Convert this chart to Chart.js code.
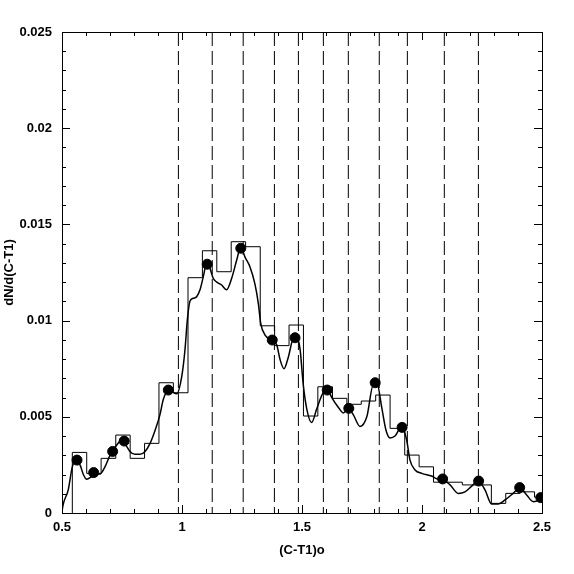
<!DOCTYPE html>
<html lang="en">
<head>
    <meta charset="UTF-8">
    <title>dN/d(C-T1)</title>
    <script src="https://cdn.jsdelivr.net/npm/chart.js"></script>
    <style>
        html, body { margin: 0; padding: 0; background: #fff; }
        #wrap { width: 574px; height: 574px; }
    </style>
</head>
<body>
    <div id="wrap"><canvas id="chart" width="574" height="574"></canvas></div>
    <script>
        // histogram: bin edges and heights
        const histEdges = [0.543, 0.603, 0.663, 0.724, 0.784, 0.844, 0.904, 0.964, 1.025, 1.085,
            1.145, 1.205, 1.265, 1.326, 1.386, 1.446, 1.506, 1.566, 1.627, 1.687, 1.747, 1.807,
            1.867, 1.928, 1.988, 2.048, 2.108, 2.168, 2.229, 2.289, 2.349, 2.409, 2.469, 2.530];
        const histValues = [0.00315, 0.00206, 0.00284, 0.00405, 0.00284, 0.00362, 0.00677,
            0.00625, 0.01223, 0.01363, 0.01254, 0.0141, 0.01384, 0.00973, 0.0087, 0.00977,
            0.00504, 0.00656, 0.00596, 0.00565, 0.00582, 0.00613, 0.0044, 0.00301, 0.0024,
            0.0016, 0.0016, 0.00146, 0.00146, 0.0005, 0.00102, 0.0011, 0.00082];

        // smoothed distribution
        const curveX = [0.5, 0.501, 0.526, 0.543, 0.557, 0.575, 0.589, 0.603, 0.624, 0.645, 0.658,
            0.679, 0.70, 0.728, 0.749, 0.770, 0.783, 0.804, 0.825, 0.846, 0.867, 0.888, 0.908,
            0.922, 0.943, 0.958, 0.978, 0.999, 1.0125, 1.022, 1.033, 1.047, 1.061, 1.075, 1.089,
            1.103, 1.117, 1.130, 1.145, 1.165, 1.186, 1.207, 1.228, 1.245, 1.2625, 1.283, 1.304,
            1.318, 1.328, 1.346, 1.374, 1.395, 1.408, 1.425, 1.443, 1.464, 1.478, 1.492, 1.505,
            1.520, 1.540, 1.561, 1.582, 1.603, 1.624, 1.651, 1.672, 1.693, 1.714, 1.742, 1.770,
            1.797, 1.814, 1.832, 1.85, 1.867, 1.8875, 1.915, 1.936, 1.95, 1.971, 1.999, 2.040,
            2.068, 2.089, 2.117, 2.151, 2.179, 2.207, 2.235, 2.2625, 2.29, 2.318, 2.346, 2.380,
            2.408, 2.436, 2.464, 2.492, 2.5];
        const curveY = [0.00002, 0.00016, 0.0012, 0.0024, 0.0027, 0.0025, 0.0020, 0.00175, 0.00189,
            0.00203, 0.00203, 0.0024, 0.0030, 0.00353, 0.0038, 0.00345, 0.0032, 0.00305, 0.00305,
            0.0032, 0.00362, 0.0043, 0.0051, 0.0059, 0.00637, 0.0063, 0.0062, 0.0071, 0.0085,
            0.0100, 0.0110, 0.01116, 0.01124, 0.0116, 0.0123, 0.0130, 0.0127, 0.0122, 0.0120,
            0.01185, 0.0116, 0.0122, 0.01315, 0.01384, 0.0133, 0.0128, 0.0119, 0.0109, 0.00986,
            0.00925, 0.0090, 0.00873, 0.0080, 0.0075, 0.0081, 0.0091, 0.00916, 0.0085, 0.0067,
            0.0054, 0.0047, 0.0054, 0.0061, 0.0065, 0.0060, 0.0055, 0.0052, 0.00544, 0.0051,
            0.0045, 0.0050, 0.00665, 0.00665, 0.0055, 0.0043, 0.0039, 0.0040, 0.00449, 0.0038,
            0.00275, 0.00224, 0.00206, 0.00192, 0.00175, 0.00172, 0.00146, 0.00102, 0.0011,
            0.0014, 0.00166, 0.0012, 0.00047, 0.00047, 0.00068, 0.00102, 0.00131, 0.00094,
            0.00059, 0.00068, 0.00073];

        // binned points
        const dotX = [0.5625, 0.632, 0.711, 0.759, 0.943, 1.105, 1.245, 1.376, 1.471, 1.605,
            1.695, 1.805, 1.917, 2.086, 2.236, 2.407, 2.495];
        const dotY = [0.00275, 0.0021, 0.0032, 0.00374, 0.00639, 0.01293, 0.01376, 0.00899,
            0.00911, 0.00639, 0.00544, 0.00677, 0.00445, 0.00177, 0.00166, 0.00132, 0.0008];

        // bin boundaries (dashed)
        const dashX = [0.985, 1.126, 1.255, 1.385, 1.485, 1.589, 1.693, 1.822, 1.939, 2.093, 2.235];

        const xMin = 0.5, xMax = 2.5, yMin = 0, yMax = 0.025;
        const labelFont = { family: 'Liberation Sans, Arial, sans-serif', size: 13, weight: 'bold' };

        const histData = [{ x: histEdges[0], y: 0 }].concat(
            histValues.map((v, i) => ({ x: histEdges[i], y: v })),
            [{ x: histEdges[histEdges.length - 1], y: histValues[histValues.length - 1] }]
        );

        const datasets = [];
        dashX.forEach(x => {
            datasets.push({
                data: [{ x: x, y: yMax }, { x: x, y: yMin }],
                showLine: true,
                borderColor: '#000',
                borderWidth: 1,
                borderDash: [14, 5],
                pointRadius: 0
            });
        });
        datasets.push({
            data: histData,
            showLine: true,
            stepped: 'before',
            borderColor: '#000',
            borderWidth: 1,
            pointRadius: 0
        });
        datasets.push({
            data: curveX.map((x, i) => ({ x: x, y: curveY[i] })),
            showLine: true,
            cubicInterpolationMode: 'monotone',
            borderColor: '#000',
            borderWidth: 1.5,
            pointRadius: 0
        });
        datasets.push({
            data: dotX.map((x, i) => ({ x: x, y: dotY[i] })),
            showLine: false,
            pointRadius: 5,
            pointBackgroundColor: '#000',
            pointBorderColor: '#000'
        });

        // inward ticks on all four sides plus the frame
        const frameTicks = {
            id: 'frameTicks',
            afterDatasetsDraw(chart) {
                const { ctx, chartArea: a, scales } = chart;
                const xs = scales.x, ys = scales.y;
                ctx.save();
                ctx.strokeStyle = '#000';
                ctx.lineWidth = 1;
                ctx.beginPath();
                for (let i = 0; i <= 20; i++) {
                    const v = xMin + i * 0.1;
                    const px = Math.round(xs.getPixelForValue(v)) + 0.5;
                    const len = i % 5 === 0 ? 8 : 4;
                    ctx.moveTo(px, a.bottom); ctx.lineTo(px, a.bottom - len);
                    ctx.moveTo(px, a.top); ctx.lineTo(px, a.top + len);
                }
                for (let i = 0; i <= 25; i++) {
                    const v = yMin + i * 0.001;
                    const py = Math.round(ys.getPixelForValue(v)) + 0.5;
                    const len = i % 5 === 0 ? 8 : 4;
                    ctx.moveTo(a.left, py); ctx.lineTo(a.left + len, py);
                    ctx.moveTo(a.right, py); ctx.lineTo(a.right - len, py);
                }
                ctx.stroke();
                ctx.strokeRect(Math.round(a.left) + 0.5, Math.round(a.top) + 0.5,
                    Math.round(a.right - a.left), Math.round(a.bottom - a.top));
                ctx.restore();
            }
        };

        new Chart(document.getElementById('chart'), {
            type: 'scatter',
            data: { datasets: datasets },
            plugins: [frameTicks],
            options: {
                responsive: false,
                animation: false,
                layout: { padding: { top: 32, right: 32, left: 0, bottom: 0 } },
                plugins: { legend: { display: false }, tooltip: { enabled: false } },
                scales: {
                    x: {
                        type: 'linear', min: xMin, max: xMax,
                        grid: { display: false, drawTicks: false },
                        border: { display: false },
                        ticks: {
                            stepSize: 0.5, padding: 7, color: '#000', font: labelFont,
                            maxRotation: 0,
                            callback: v => parseFloat(Number(v).toFixed(3)).toString()
                        },
                        title: {
                            display: true, text: '(C-T1)o', color: '#000', font: labelFont,
                            padding: { top: 0, bottom: 16 }
                        },
                        afterFit: s => { s.height = 61; }
                    },
                    y: {
                        type: 'linear', min: yMin, max: yMax,
                        grid: { display: false, drawTicks: false },
                        border: { display: false },
                        ticks: {
                            stepSize: 0.005, padding: 10, color: '#000', font: labelFont,
                            callback: v => parseFloat(Number(v).toFixed(3)).toString()
                        },
                        title: {
                            display: true, text: 'dN/d(C-T1)', color: '#000', font: labelFont,
                            padding: { top: 2, bottom: 0 }
                        },
                        afterFit: s => { s.width = 62; }
                    }
                }
            }
        });
    </script>
</body>
</html>
